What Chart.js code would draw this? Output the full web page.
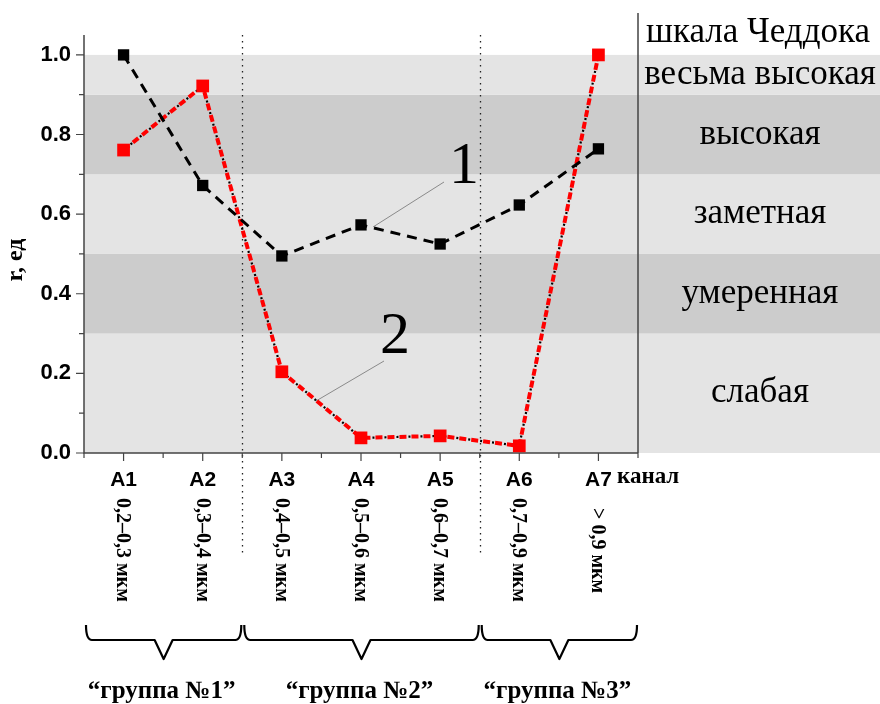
<!DOCTYPE html>
<html>
<head>
<meta charset="utf-8">
<script src="https://cdn.jsdelivr.net/npm/chart.js@4"></script>
<style>
  body { margin: 0; background: #fff; }
  #wrap { width: 880px; height: 704px; }
</style>
</head>
<body>
<div id="wrap"><canvas id="chart" width="880" height="704"></canvas></div>
<script>
// данные графика
const categories = ["A1", "A2", "A3", "A4", "A5", "A6", "A7"];
const channels   = ["0,2–0,3 мкм", "0,3–0,4 мкм", "0,4–0,5 мкм", "0,5–0,6 мкм", "0,6–0,7 мкм", "0,7–0,9 мкм", "> 0,9 мкм"];
const series1    = [1.0, 0.672, 0.495, 0.573, 0.525, 0.623, 0.764];
const series2    = [0.761, 0.922, 0.204, 0.038, 0.043, 0.018, 1.0];

// шкала Чеддока
const bandEdges  = [0, 0.3, 0.5, 0.7, 0.9, 1.0];
const bandNames  = ["слабая", "умеренная", "заметная", "высокая", "весьма высокая"];
const scaleTitle = "шкала Чеддока";

// группы каналов
const groupNames  = ["“группа №1”", "“группа №2”", "“группа №3”"];
const groupBounds = [0.5, 2.5, 5.5, 7.5];

const SERIF = "'Liberation Serif', 'DejaVu Serif', serif";
const SANS  = "'Liberation Sans', Arial, sans-serif";
const LIGHT = "#e4e4e4";
const DARK  = "#cccccc";

function toPoints(values){
    return values.map((v, i) => ({ x: i + 1, y: v }));
}

const decor = {
    id: "decor",
    beforeDatasetsDraw(chart){
        const ctx = chart.ctx;
        const a = chart.chartArea;
        const xs = chart.scales.x;
        const ys = chart.scales.y;

        // полосы фона (в графике и в правой панели)
        for (let i = 0; i < bandNames.length; i++){
            const yTop = ys.getPixelForValue(bandEdges[i + 1]);
            const yBot = ys.getPixelForValue(bandEdges[i]);
            ctx.fillStyle = (i % 2 == 0) ? LIGHT : DARK;
            ctx.fillRect(a.left, yTop, chart.width - a.left, yBot - yTop);
        }

        // пунктирные границы групп
        ctx.save();
        ctx.strokeStyle = "#222";
        ctx.lineWidth = 1.3;
        ctx.setLineDash([1.5, 4.5]);
        for (let g of groupBounds.slice(1, -1)){
            const px = Math.round(xs.getPixelForValue(g)) + 0.5;
            ctx.beginPath();
            ctx.moveTo(px, a.top);
            ctx.lineTo(px, 556);
            ctx.stroke();
        }
        ctx.restore();

        // оси
        ctx.save();
        ctx.strokeStyle = "#444";
        ctx.lineWidth = 1.5;
        ctx.beginPath();
        ctx.moveTo(a.left, a.top);
        ctx.lineTo(a.left, a.bottom);
        ctx.lineTo(a.right, a.bottom);
        ctx.moveTo(a.right, 13);
        ctx.lineTo(a.right, a.bottom);
        ctx.stroke();

        // засечки
        ctx.lineWidth = 1.2;
        ctx.beginPath();
        for (let t of ys.ticks){
            const py = ys.getPixelForValue(t.value);
            const major = Math.abs(t.value * 5 - Math.round(t.value * 5)) < 1e-6;
            ctx.moveTo(a.left, py);
            ctx.lineTo(a.left - (major ? 8 : 5), py);
        }
        for (let t of xs.ticks){
            const px = xs.getPixelForValue(t.value);
            const major = Number.isInteger(t.value);
            ctx.moveTo(px, a.bottom);
            ctx.lineTo(px, a.bottom + (major ? 8 : 5));
        }
        ctx.stroke();
        ctx.restore();

        // подписи-выноски 1 и 2
        ctx.save();
        ctx.strokeStyle = "#8a8a8a";
        ctx.lineWidth = 1;
        ctx.beginPath();
        ctx.moveTo(444, 182); ctx.lineTo(373, 227);
        ctx.moveTo(384, 361); ctx.lineTo(316, 401);
        ctx.stroke();
        ctx.fillStyle = "#000";
        ctx.font = "60px " + SERIF;
        ctx.textAlign = "center";
        ctx.textBaseline = "alphabetic";
        ctx.fillText("1", 464, 183);
        ctx.fillText("2", 395, 353);
        ctx.restore();
    },
    afterDraw(chart){
        const ctx = chart.ctx;
        const a = chart.chartArea;
        const xs = chart.scales.x;
        const ys = chart.scales.y;
        const panelX = (a.right + chart.width) / 2 + 1;

        ctx.save();
        ctx.fillStyle = "#000";
        ctx.textAlign = "center";
        ctx.textBaseline = "middle";

        // правая панель
        ctx.font = "35px " + SERIF;
        ctx.fillText(scaleTitle, panelX - 2, 33);
        for (let i = 0; i < bandNames.length; i++){
            const py = ys.getPixelForValue((bandEdges[i] + bandEdges[i + 1]) / 2);
            ctx.fillText(bandNames[i], panelX, py);
        }

        // подпись оси Y
        ctx.save();
        ctx.translate(16, 260);
        ctx.rotate(-Math.PI / 2);
        ctx.font = "bold 24px " + SERIF;
        ctx.fillText("r, ед", 0, 0);
        ctx.restore();

        // "канал"
        ctx.textAlign = "left";
        ctx.textBaseline = "alphabetic";
        ctx.font = "bold 23px " + SERIF;
        ctx.fillText("канал", 617, 483);

        // диапазоны каналов (вертикально)
        ctx.font = "bold 20px " + SERIF;
        for (let i = 0; i < channels.length; i++){
            const px = xs.getPixelForValue(i + 1);
            ctx.save();
            ctx.translate(px - 1, channels[i].startsWith(">") ? 508 : 498);
            ctx.rotate(Math.PI / 2);
            ctx.textAlign = "left";
            ctx.textBaseline = "middle";
            ctx.fillText(channels[i], 0, 0);
            ctx.restore();
        }

        // фигурные скобки групп
        ctx.strokeStyle = "#000";
        ctx.lineWidth = 2.2;
        ctx.lineJoin = "round";
        for (let g = 0; g < groupNames.length; g++){
            const x1 = xs.getPixelForValue(groupBounds[g]) + 2;
            const x2 = xs.getPixelForValue(groupBounds[g + 1]) - 1;
            const xc = (x1 + x2) / 2;
            const yTop = 625, yMid = 640, yTip = 659;
            ctx.beginPath();
            ctx.moveTo(x1, yTop);
            ctx.quadraticCurveTo(x1, yMid, x1 + 6, yMid);
            ctx.lineTo(xc - 9, yMid);
            ctx.lineTo(xc, yTip);
            ctx.lineTo(xc + 9, yMid);
            ctx.lineTo(x2 - 6, yMid);
            ctx.quadraticCurveTo(x2, yMid, x2, yTop);
            ctx.stroke();

            ctx.textAlign = "center";
            ctx.font = "bold 25px " + SERIF;
            ctx.fillText(groupNames[g], xc - 2, 698);
        }
        ctx.restore();
    }
};

const ctx = document.getElementById("chart").getContext("2d");
const myChart = new Chart(ctx, {
    type: "line",
    data: {
        datasets: [
            {
                label: "1",
                data: toPoints(series1),
                borderColor: "#000",
                borderWidth: 3,
                borderDash: [10, 7],
                pointStyle: "rect",
                pointRadius: 8,
                pointBackgroundColor: "#000",
                pointBorderWidth: 0,
                order: 1
            },
            {
                label: "2",
                data: toPoints(series2),
                borderColor: "#ff0000",
                borderWidth: 4,
                borderDash: [7, 5],
                pointStyle: "rect",
                pointRadius: 9,
                pointBackgroundColor: "#ff0000",
                pointBorderWidth: 0,
                order: 2
            },
            {
                // черные точки между штрихами линии 2
                label: "2-dots",
                data: toPoints(series2),
                borderColor: "#000",
                borderWidth: 2.2,
                borderDash: [2, 10],
                borderDashOffset: 3,
                pointRadius: 0,
                order: 3
            }
        ]
    },
    options: {
        responsive: false,
        animation: false,
        layout: { padding: { left: 0, top: 35, right: 242, bottom: 0 } },
        plugins: {
            legend: { display: false },
            tooltip: { enabled: false }
        },
        scales: {
            x: {
                type: "linear",
                min: 0.5,
                max: 7.5,
                grid: { display: false, drawTicks: false },
                border: { display: false },
                ticks: {
                    stepSize: 0.5,
                    padding: 15,
                    maxRotation: 0,
                    autoSkip: false,
                    color: "#000",
                    font: { family: SANS, size: 21, weight: "bold" },
                    callback: (v) => Number.isInteger(v) ? categories[v - 1] : ""
                },
                afterFit: (scale) => { scale.height = 251; }
            },
            y: {
                min: 0,
                max: 1.05,
                grid: { display: false, drawTicks: false },
                border: { display: false },
                ticks: {
                    stepSize: 0.1,
                    includeBounds: false,
                    padding: 13,
                    autoSkip: false,
                    color: "#000",
                    font: { family: SANS, size: 22, weight: "bold" },
                    callback: (v) => Math.abs(v * 5 - Math.round(v * 5)) < 1e-6 ? v.toFixed(1) : ""
                },
                afterFit: (scale) => { scale.width = 84; }
            }
        }
    },
    plugins: [decor]
});
</script>
</body>
</html>
